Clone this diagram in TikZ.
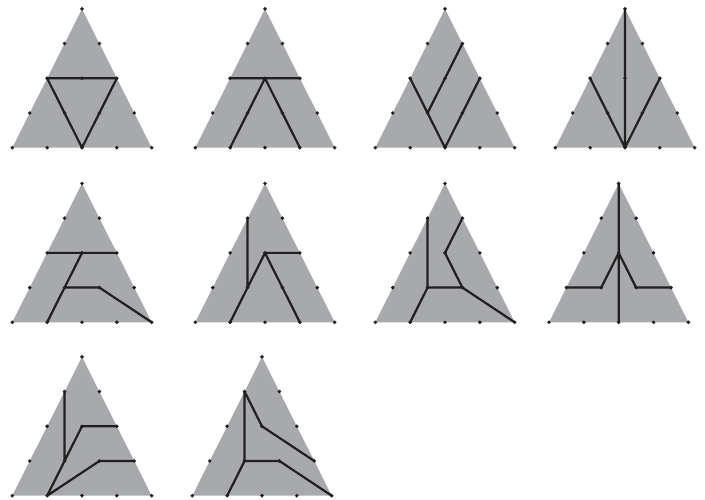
\documentclass[tikz,border=0pt]{standalone}

\definecolor{facegray}{RGB}{167,169,172}
\definecolor{inkblack}{RGB}{35,31,32}

\tikzset{
  face/.style={fill=facegray},
  tree/.style={draw=inkblack, line width=2.2pt, line cap=round, line join=round},
  dotmark/.style={fill=inkblack}
}

% triangle #1 with lower left corner at (#2,#3): grey face, lattice points #1-i-j
\newcommand{\lattice}[3]{%
  \fill[face] (#2,#3) -- ++(139.4,0) -- ++(-69.7,138.8) -- cycle;
  \foreach \j in {0,...,4} {
    \pgfmathtruncatemacro{\imax}{4-\j}
    \foreach \i in {0,...,\imax} {
      \coordinate (#1-\i-\j) at ({#2+34.85*\i+17.42*\j},{#3+34.7*\j});
      \fill[dotmark] (#1-\i-\j) circle (1.95pt);
    }
  }
}

\begin{document}
\begin{tikzpicture}[x=1pt, y=1pt]
  \useasboundingbox (0,0) rectangle (705,500);

  \lattice{a}{12.3}{352.3}
  \lattice{b}{195.3}{352.3}
  \lattice{c}{375.3}{352.3}
  \lattice{d}{555.3}{352.3}
  \lattice{e}{12.3}{177.7}
  \lattice{f}{195.3}{177.7}
  \lattice{g}{375.3}{177.7}
  \lattice{h}{549.0}{177.7}
  \lattice{k}{12.3}{4.3}
  \lattice{m}{192.3}{4.3}

  % first row
  \draw[tree] (a-0-2) -- (a-2-2) -- (a-2-0) -- cycle;
  \draw[tree] (b-0-2) -- (b-2-2) (b-1-0) -- (b-1-2) -- (b-3-0);
  \draw[tree] (c-0-2) -- (c-1-1) -- (c-2-0) -- (c-2-2) (c-1-1) -- (c-1-3);
  \draw[tree] (d-2-0) -- (d-0-4) (d-0-2) -- (d-2-0) -- (d-2-2);

  % second row
  \draw[tree] (e-0-2) -- (e-2-2) (e-1-2) -- (e-1-0) (e-1-1) -- (e-2-1) -- (e-4-0);
  \draw[tree] (f-0-3) -- (f-1-1) (f-1-0) -- (f-1-2) -- (f-2-2) (f-1-2) -- (f-3-0);
  \draw[tree] (g-0-3) -- (g-1-1) -- (g-1-0) (g-1-1) -- (g-2-1) -- (g-4-0)
              (g-2-1) -- (g-1-2) -- (g-1-3);
  \draw[tree] (h-0-4) -- (h-2-0) (h-0-1) -- (h-1-1) -- (h-1-2) -- (h-2-1) -- (h-3-1);

  % third row
  \draw[tree] (k-0-3) -- (k-1-1) -- (k-1-0) (k-1-1) -- (k-1-2) -- (k-2-2)
              (k-1-0) -- (k-2-1) -- (k-3-1);
  \draw[tree] (m-1-2) -- (m-0-3) -- (m-1-1) -- (m-1-0) (m-1-1) -- (m-2-1) -- (m-4-0)
              (m-1-2) -- (m-3-1);
\end{tikzpicture}
\end{document}
